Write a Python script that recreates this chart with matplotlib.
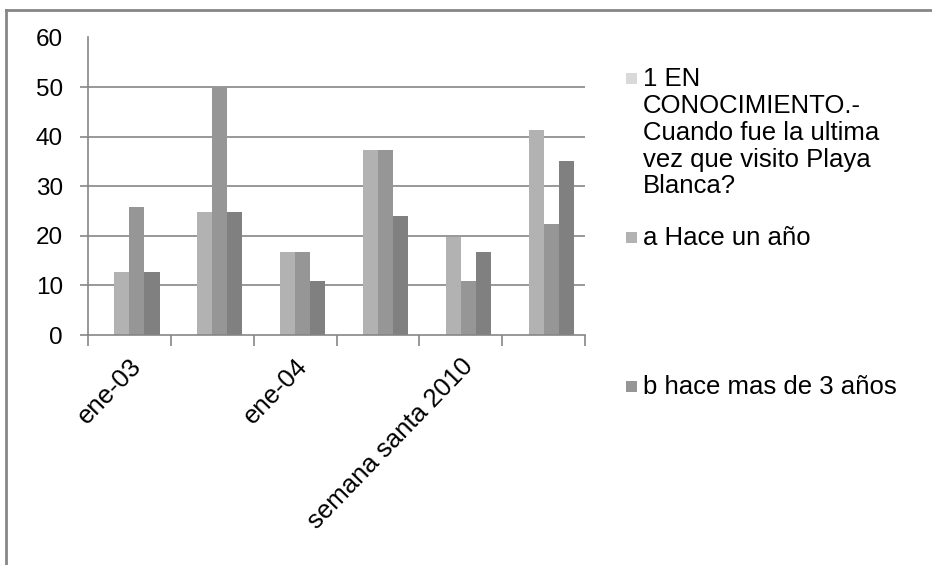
import matplotlib
matplotlib.use("Agg")
import matplotlib.pyplot as plt
import matplotlib.patches as patches
from matplotlib.lines import Line2D
import numpy as np

plt.rcParams["font.family"] = ["Liberation Sans", "DejaVu Sans"]

# -- Data --
categories = ["ene-03", "", "ene-04", "", "semana santa 2010", ""]
series_names = [
    "1 EN\nCONOCIMIENTO.-\nCuando fue la ultima\nvez que visito Playa\nBlanca?",
    "a Hace un año",
    "b hace mas de 3 años",
    "",
]
s_header = [0, 0, 0, 0, 0, 0]
s_a = [12.8, 24.8, 16.7, 37.3, 19.8, 41.3]
s_b = [25.8, 50.0, 16.7, 37.3, 10.9, 22.4]
s_c = [12.8, 24.8, 10.9, 24.0, 16.7, 35.1]
series = [s_header, s_a, s_b, s_c]
colors = ["#d9d9d9", "#b2b2b2", "#969696", "#808080"]
yticks = [0, 10, 20, 30, 40, 50, 60]

GRAY = "#868686"
FS = 17.5
FS_TXT = 18.5

fig = plt.figure(figsize=(9.32, 5.65), dpi=100)
ax = fig.add_axes([88 / 932, 230 / 565, 497 / 932, 297.6 / 565])

x = np.arange(len(categories))
w = 1 / 5.5
bars = []
for i, (vals, c) in enumerate(zip(series, colors)):
    b = ax.bar(x + (i - 1.5) * w, vals, width=w, color=c, linewidth=0, zorder=3)
    bars.append(b)

ax.set_xlim(-0.5, len(categories) - 0.5)
ax.set_ylim(0, 60)

# gridlines (no line at the top value)
for v in yticks[1:-1]:
    ax.axhline(v, color=GRAY, lw=1.2, zorder=1)

for s in ["top", "right"]:
    ax.spines[s].set_visible(False)
for s in ["left", "bottom"]:
    ax.spines[s].set_color(GRAY)
    ax.spines[s].set_linewidth(1.2)
    ax.spines[s].set_zorder(4)

ax.set_yticks(yticks)
ax.set_yticklabels([str(v) for v in yticks], fontsize=FS)
ax.tick_params(axis="y", length=6, width=1.2, color=GRAY, pad=12)
ax.yaxis.get_major_ticks()[-1].tick1line.set_visible(False)

ax.set_xticks(np.arange(-0.5, len(categories)), labels=[""] * (len(categories) + 1))
ax.tick_params(axis="x", which="major", length=8, width=1.2, color=GRAY)
ax.set_xticks(x, labels=categories, minor=True)
ax.tick_params(axis="x", which="minor", length=0, pad=14, labelsize=FS_TXT)
for lab in ax.get_xticklabels(minor=True):
    lab.set_rotation(46)
    lab.set_ha("right")
    lab.set_va("top")
    lab.set_rotation_mode("anchor")

# -- Legend (first three entries, last one is cut off in the original) --
sq_top = [73, 232, 381]
txt_top = [67, 226, 375]
for i in range(3):
    c = bars[i].patches[0].get_facecolor()
    sq = patches.Rectangle((626 / 932, 1 - (sq_top[i] + 11) / 565), 11 / 932, 11 / 565,
                           transform=fig.transFigure, facecolor=c, edgecolor="none")
    fig.add_artist(sq)
    fig.text(643 / 932, 1 - txt_top[i] / 565, series_names[i], fontsize=FS_TXT,
             va="top", ha="left", linespacing=1.15)

# outer frame (only top and left visible)
fig.add_artist(Line2D([6 / 932, 1], [1 - 10 / 565, 1 - 10 / 565],
                      transform=fig.transFigure, color=GRAY, lw=2))
fig.add_artist(Line2D([6 / 932, 6 / 932], [0, 1 - 10 / 565],
                      transform=fig.transFigure, color=GRAY, lw=2))

fig.savefig("out.png", dpi=100)
